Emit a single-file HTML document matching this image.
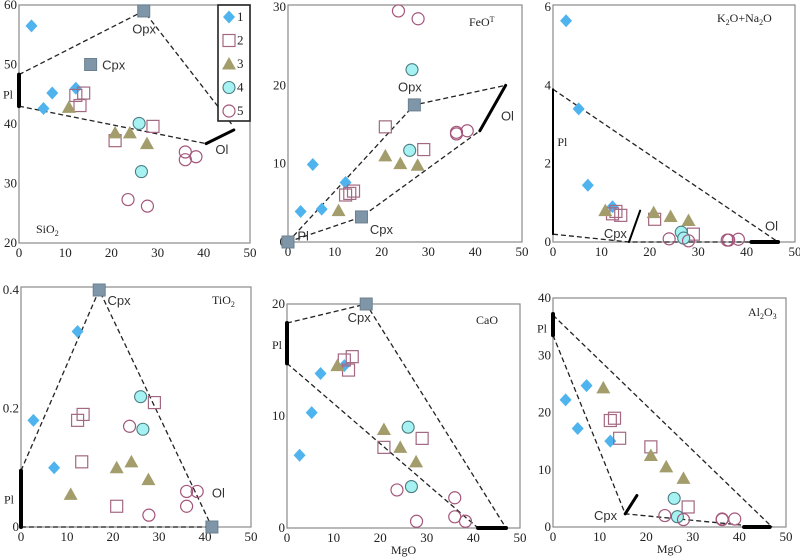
<!DOCTYPE html>
<html><head><meta charset="utf-8">
<style>
html,body{margin:0;padding:0;background:#fff;}
svg{display:block;}
.num{font-family:"Liberation Serif",serif;font-size:13px;fill:#222;}
.lab{font-family:"Liberation Sans",sans-serif;font-size:13px;fill:#333;}
.ttl{font-family:"Liberation Serif",serif;font-size:12px;fill:#222;}
</style></head>
<body>
<svg id="c" width="800" height="557" viewBox="0 0 800 557"></svg>
<script>
// ---- data: [MgO, oxide] per series per panel ----
const sio2_s1=[[2.7,56.5],[5.3,42.6],[7.2,45.2],[12.3,46]];
const sio2_s2=[[12.3,44.8],[13.2,43.1],[14,45.2],[20.8,37.2],[29,39.6]];
const sio2_s3=[[10.8,42.8],[20.8,38.5],[24,38.5],[27.7,36.7]];
const sio2_s4=[[26,40.1],[26.5,32]];
const sio2_s5=[[23.6,27.3],[27.8,26.2],[36,35.3],[36,34],[38.3,34.5]];
const feo_s1=[[2.7,3.9],[5.3,9.9],[7.2,4.2],[12.3,7.6]];
const feo_s2=[[12.3,6],[13.2,6.2],[14,6.5],[20.8,14.7],[29,11.8]];
const feo_s3=[[10.8,4],[20.8,11],[24,10],[27.7,9.8]];
const feo_s4=[[26.5,22],[26,11.7]];
const feo_s5=[[23.6,29.5],[27.8,28.5],[36,13.8],[36,14],[38.3,14.2]];
const alk_s1=[[2.7,5.65],[5.3,3.4],[7.2,1.45],[12.3,0.9]];
const alk_s2=[[12.3,0.72],[13,0.78],[14,0.68],[21,0.58],[29,0.2]];
const alk_s3=[[10.8,0.8],[20.8,0.75],[24.3,0.65],[28,0.55]];
const alk_s4=[[26.5,0.25],[27,0.1]];
const alk_s5=[[24,0.08],[28,0.03],[36,0.05],[36.3,0.05],[38.3,0.07]];
const tio2_s1=[[2.7,0.18],[7.2,0.1],[12.3,0.33]];
const tio2_s2=[[12.3,0.18],[13.5,0.19],[13.2,0.11],[20.8,0.035],[29,0.21]];
const tio2_s3=[[10.8,0.055],[20.8,0.1],[24,0.11],[27.7,0.08]];
const tio2_s4=[[26,0.22],[26.5,0.165]];
const tio2_s5=[[23.6,0.17],[27.8,0.02],[36,0.06],[36,0.035],[38.3,0.06]];
const cao_s1=[[2.7,6.5],[5.3,10.3],[7.2,13.8],[12.3,14.5]];
const cao_s2=[[12.3,15],[13.2,14.1],[14,15.3],[20.8,7.2],[29,8]];
const cao_s3=[[10.8,14.5],[20.8,8.8],[24.3,7.2],[27.7,5.9]];
const cao_s4=[[26,9],[26.7,3.7]];
const cao_s5=[[23.6,3.4],[27.8,0.6],[36,2.7],[36,1],[38.3,0.6]];
const al_s1=[[2.7,22.2],[5.3,17.2],[7.2,24.7],[12.3,15]];
const al_s2=[[12.3,18.6],[13.2,19],[14.3,15.5],[21,14],[29,3.5]];
const al_s3=[[10.8,24.3],[21,12.5],[24.3,10.5],[28,8.5]];
const al_s4=[[26,5],[26.7,1.8]];
const al_s5=[[24,2],[28,1.3],[36.3,1.4],[36.3,1.3],[39,1.4]];
const xTicks=[0,10,20,30,40,50];
const sio2Ticks=[20,30,40,50,60];
const feoTicks=[0,10,20,30];
const alkTicks=[0,2,4,6];
const tio2Ticks=[0,0.2,0.4];
const caoTicks=[0,10,20];
const alTicks=[0,10,20,30,40];

const NS='http://www.w3.org/2000/svg';
const svg=document.getElementById('c');
function el(tag,attrs,parent){const e=document.createElementNS(NS,tag);for(const k in attrs)e.setAttribute(k,attrs[k]);(parent||svg).appendChild(e);return e;}
function txt(s,x,y,cls,parent,anchor){const t=el('text',{x:x,y:y,class:cls,'text-anchor':anchor||'start'},parent);t.innerHTML=s;return t;}

function panel(name,L,R,T,B,ymin,ymax,yTicks,frameTop,series,title,tx,ty,mgo){
  const g=el('g',{});
  
  
  const X=v=>L+(R-L)*v/50;
  const Y=v=>B-(B-T)*(v-ymin)/(ymax-ymin);
  const fr=el('rect',{x:L,y:frameTop,width:R-L,height:B-frameTop,fill:'none',stroke:'#8a8a8a','stroke-width':1.2},g);
  
  
  xTicks.forEach(v=>{const t=txt(String(v),X(v),B+14,'num',g,'middle');
    
    });
  yTicks.forEach(v=>{const t=txt(String(v),L-2,Y(v)+4,'num',g,'end');
    
    });
  if(mgo){const t=txt('MgO',(L+R)/2,B+26,'ttl',g,'middle');t.setAttribute('font-size','13');
    
    }
  const tt=txt(title,tx,ty,'ttl',g,'start');
  
  
  return {g,X,Y};
}
function dash(p,pts,nm){const d=pts.map((q,i)=>(i?'L':'M')+p.X(q[0])+' '+p.Y(q[1])).join(' ');
  const e=el('path',{d:d,fill:'none',stroke:'#222','stroke-width':1.3,'stroke-dasharray':'5,3'},p.g);
  
  }
function solid(p,a,b,w,nm){const e=el('line',{x1:p.X(a[0]),y1:p.Y(a[1]),x2:p.X(b[0]),y2:p.Y(b[1]),stroke:'#000','stroke-width':w,'stroke-linecap':'round'},p.g);
  
  }
function endm(p,v,nm){const e=el('rect',{x:p.X(v[0])-6,y:p.Y(v[1])-6,width:12,height:12,fill:'#7f96a8',stroke:'#6b8090'},p.g);
  
  }
function lab(p,s,x,y,cls,nm){const t=txt(s,x,y,cls||'lab',p.g);
  
  }
function marker(g,kind,cx,cy){
  let e;
  if(kind==1)e=el('path',{d:`M${cx} ${cy-6.5}L${cx+6} ${cy}L${cx} ${cy+6.5}L${cx-6} ${cy}Z`,fill:'#4fb4ee'},g);
  else if(kind==2)e=el('rect',{x:cx-6,y:cy-6,width:12,height:12,fill:'none',stroke:'#a36882','stroke-width':1.2},g);
  else if(kind==3)e=el('path',{d:`M${cx} ${cy-7}L${cx+7} ${cy+5.5}L${cx-7} ${cy+5.5}Z`,fill:'#a39d6c'},g);
  else if(kind==4)e=el('circle',{cx:cx,cy:cy,r:6,fill:'#a6f2f2',stroke:'#4c7c82','stroke-width':1.1},g);
  else e=el('circle',{cx:cx,cy:cy,r:6,fill:'none',stroke:'#a3567a','stroke-width':1.2},g);
  return e;
}
function plot(p,arrs,nm){arrs.forEach((arr,i)=>arr.forEach(d=>{
  const m=marker(p.g,i+1,p.X(d[0]),p.Y(d[1]));
  
  }));}

// Panel 1 SiO2
let p=panel('sio2',19,250,5,243,20,60,sio2Ticks,5,null,'SiO<tspan font-size="8" dy="3">2</tspan>',36,233,false);
dash(p,[[0,48.3],[27,59],[46,40]]);
dash(p,[[0,43],[40.5,36.7]]);
solid(p,[40.5,36.7],[46.5,39],3,'ol-bar');
solid(p,[0,43],[0,48.3],4,'pl-bar');
endm(p,[27,59],'opx-point');endm(p,[15.5,50],'cpx-point');
lab(p,'Opx',p.X(24.5),p.Y(55.2),'lab','opx-label');lab(p,'Cpx',p.X(18),p.Y(49.2),'lab','cpx-label');
lab(p,'Ol',p.X(42.5),p.Y(35),'lab','ol-label');lab(p,'Pl',3,p.Y(44.3),'ttl','pl-label');
plot(p,[sio2_s1,sio2_s2,sio2_s3,sio2_s4,sio2_s5],'sio2');
// legend
const lg=el('g',{});


el('rect',{x:218,y:5,width:32,height:116,fill:'#fff',stroke:'#222','stroke-width':1.6},lg);
[1,2,3,4,5].forEach((k,i)=>{const cy=17+i*23.5;const m=marker(lg,k,229,cy);
  
  
  const t=txt(String(k),237,cy+4,'num',lg);
  
  });

// Panel 2 FeO
p=panel('feot',288,522,7,242,0,30,feoTicks,5,null,'FeO<tspan font-size="8" dy="-4">T</tspan>',469,26,false);
dash(p,[[0,0],[27,17.5],[46.5,20]]);
dash(p,[[0,0],[15.7,3.2],[41,14.2]]);
solid(p,[41,14.2],[46.5,20],3,'ol-bar');
endm(p,[0,0],'pl-point');endm(p,[15.7,3.2],'cpx-point');endm(p,[27,17.5],'opx-point');
lab(p,'Opx',p.X(23.5),p.Y(19.2),'lab','opx-label');lab(p,'Ol',p.X(45.5),p.Y(15.5),'lab','ol-label');
lab(p,'Cpx',p.X(17.5),p.Y(1),'lab','cpx-label');lab(p,'Pl',p.X(2),p.Y(0.2),'lab','pl-label');
plot(p,[feo_s1,feo_s2,feo_s3,feo_s4,feo_s5],'feot');

// Panel 3 K2O+Na2O
p=panel('alkali',553,795,7,242,0,6,alkTicks,5,null,'K<tspan font-size="8" dy="3">2</tspan><tspan dy="-3">O+Na</tspan><tspan font-size="8" dy="3">2</tspan><tspan dy="-3">O</tspan>',717,22,false);
dash(p,[[0,3.9],[46.5,0]]);
dash(p,[[0,0.2],[15.7,0],[41,0]]);
solid(p,[0,0.2],[0,3.9],2,'pl-bar');
solid(p,[15.7,0],[18,0.8],2,'cpx-bar');
solid(p,[41,0],[46.5,0],4,'ol-bar');
lab(p,'Pl',p.X(0.9),p.Y(2.45),'ttl','pl-label');lab(p,'Cpx',p.X(10.5),p.Y(0.1),'lab','cpx-label');
lab(p,'Ol',p.X(43.8),p.Y(0.3),'lab','ol-label');
plot(p,[alk_s1,alk_s2,alk_s3,alk_s4,alk_s5],'alkali');

// Panel 4 TiO2
p=panel('tio2',21,251,290,527,0,0.4,tio2Ticks,287,null,'TiO<tspan font-size="8" dy="3">2</tspan>',212,304,false);
dash(p,[[0,0.095],[17,0.4],[41.5,0]]);
dash(p,[[0,0],[41.5,0]]);
solid(p,[0,0],[0,0.095],4,'pl-bar');
endm(p,[17,0.4],'cpx-point');endm(p,[41.5,0],'ol-point');
lab(p,'Cpx',p.X(18.8),p.Y(0.375),'lab','cpx-label');lab(p,'Ol',p.X(41.5),p.Y(0.05),'lab','ol-label');
lab(p,'Pl',4,p.Y(0.04),'ttl','pl-label');
plot(p,[tio2_s1,tio2_s2,tio2_s3,tio2_s4,tio2_s5],'tio2');

// Panel 5 CaO
p=panel('cao',287,520,304,528,0,20,caoTicks,304,null,'CaO',476,324,true);
dash(p,[[0,18.3],[17,20],[47,0]]);
dash(p,[[0,14.7],[41,0]]);
solid(p,[0,14.7],[0,18.3],4,'pl-bar');
solid(p,[41,0],[47,0],4,'ol-bar');
endm(p,[17,20],'cpx-point');
lab(p,'Cpx',p.X(13),p.Y(18.4),'lab','cpx-label');lab(p,'Pl',272,p.Y(16),'ttl','pl-label');
plot(p,[cao_s1,cao_s2,cao_s3,cao_s4,cao_s5],'cao');

// Panel 6 Al2O3
p=panel('al2o3',553,786,298,527,0,40,alTicks,298,null,'Al<tspan font-size="8" dy="3">2</tspan><tspan dy="-3">O</tspan><tspan font-size="8" dy="3">3</tspan>',748,316,true);
dash(p,[[0,37],[47,0]]);
dash(p,[[0,33.5],[15.5,2.3],[41,0.3]]);
solid(p,[0,33.5],[0,37.2],4,'pl-bar');
solid(p,[15.5,2.3],[18,5.5],3,'cpx-bar');
solid(p,[41,0],[46.5,0],4,'ol-bar');
lab(p,'Pl',537,p.Y(34),'ttl','pl-label');lab(p,'Cpx',p.X(8.8),p.Y(1.2),'lab','cpx-label');
plot(p,[al_s1,al_s2,al_s3,al_s4,al_s5],'al2o3');
</script>
</body></html>
